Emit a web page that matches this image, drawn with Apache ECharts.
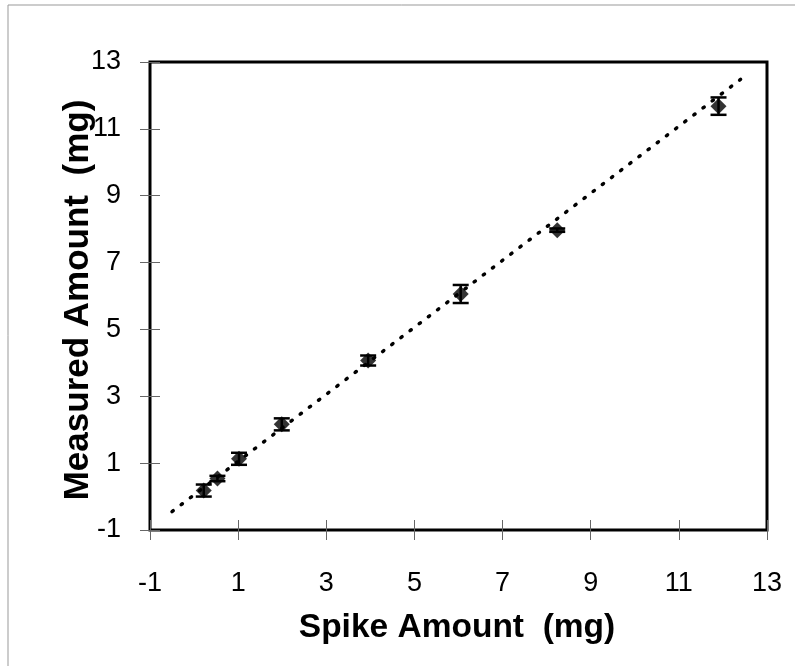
<!DOCTYPE html>
<html>
<head>
<meta charset="utf-8">
<script src="https://cdn.jsdelivr.net/npm/echarts@6/dist/echarts.min.js"></script>
<style>
html,body{margin:0;padding:0;background:#fff;}
#chart{width:795px;height:666px;}
</style>
</head>
<body>
<div id="chart"></div>
<script>
// Data
const spikeAmount = [0.22, 0.53, 1.02, 1.99, 3.95, 6.05, 8.24, 11.9];
const measuredAmount = [0.18, 0.54, 1.13, 2.16, 4.07, 6.06, 7.97, 11.68];
const errorAmount = [0.18, 0.08, 0.18, 0.18, 0.15, 0.27, 0.05, 0.26];
const trendX = [-0.5, 12.4];
const trendY = [-0.45, 12.48];
const tickLabels = [-1, 1, 3, 5, 7, 9, 11, 13];
const xTitle = 'Spike Amount  (mg)';
const yTitle = 'Measured Amount  (mg)';

const FONT = '"Liberation Sans", Arial, sans-serif';
const chart = echarts.init(document.getElementById('chart'), null, {renderer: 'canvas'});

const points = spikeAmount.map((x, i) => [x, measuredAmount[i]]);
const errData = spikeAmount.map((x, i) => [x, measuredAmount[i] - errorAmount[i], measuredAmount[i] + errorAmount[i]]);
const trendData = trendX.map((x, i) => [x, trendY[i]]);

function axisBase() {
  return {
    type: 'value', min: tickLabels[0], max: tickLabels[tickLabels.length - 1], interval: 2,
    splitLine: {show: false},
    axisLine: {show: false, onZero: false},
    offset: 0
  };
}

const tickStyle = {color: '#666', width: 1};

const option = {
  backgroundColor: '#fff',
  animation: false,
  grid: {left: 150, right: 28, top: 62, bottom: 136, show: true, borderColor: '#000', borderWidth: 3, backgroundColor: 'transparent'},
  graphic: [
    {type: 'line', shape: {x1: 8, y1: 5, x2: 8, y2: 666}, style: {stroke: '#999', lineWidth: 1}},
    {type: 'line', shape: {x1: 8, y1: 5, x2: 795, y2: 5}, style: {stroke: '#999', lineWidth: 1}},
    {type: 'text', x: 457, y: 628, style: {text: xTitle, font: 'bold 33.5px ' + FONT, fill: '#000', align: 'center', verticalAlign: 'middle'}},
    {type: 'text', x: 78, y: 300, rotation: Math.PI / 2, style: {text: yTitle, font: 'bold 35px ' + FONT, fill: '#000', align: 'center', verticalAlign: 'middle'}}
  ],
  xAxis: [
    Object.assign(axisBase(), {
      position: 'bottom',
      axisTick: {show: true, inside: false, length: 10, lineStyle: tickStyle},
      axisLabel: {margin: 40, color: '#000', fontFamily: FONT, fontSize: 27}
    }),
    Object.assign(axisBase(), {
      position: 'bottom',
      axisTick: {show: true, inside: true, length: 10, lineStyle: tickStyle},
      axisLabel: {show: false}
    })
  ],
  yAxis: [
    Object.assign(axisBase(), {
      position: 'left',
      axisTick: {show: true, inside: false, length: 10, lineStyle: tickStyle},
      axisLabel: {margin: 29, color: '#000', fontFamily: FONT, fontSize: 27}
    }),
    Object.assign(axisBase(), {
      position: 'left',
      axisTick: {show: true, inside: true, length: 10, lineStyle: tickStyle},
      axisLabel: {show: false}
    })
  ],
  series: [
    {
      type: 'line', data: trendData, xAxisIndex: 0, yAxisIndex: 0,
      showSymbol: false, symbol: 'none', silent: true,
      lineStyle: {color: '#000', width: 3.5, type: [1.5, 10], cap: 'round'},
      z: 2
    },
    {
      type: 'custom', xAxisIndex: 0, yAxisIndex: 0, data: errData,
      renderItem: function (params, api) {
        const x = api.value(0);
        const lo = api.coord([x, api.value(1)]);
        const hi = api.coord([x, api.value(2)]);
        const hw = 8;
        const style = {stroke: '#000', lineWidth: 2.5, fill: null};
        return {type: 'group', children: [
          {type: 'line', shape: {x1: lo[0], y1: lo[1], x2: hi[0], y2: hi[1]}, style: style},
          {type: 'line', shape: {x1: lo[0] - hw, y1: lo[1], x2: lo[0] + hw, y2: lo[1]}, style: style},
          {type: 'line', shape: {x1: hi[0] - hw, y1: hi[1], x2: hi[0] + hw, y2: hi[1]}, style: style}
        ]};
      },
      z: 3
    },
    {
      type: 'scatter', data: points, xAxisIndex: 0, yAxisIndex: 0,
      symbol: 'diamond', symbolSize: 16,
      itemStyle: {color: '#000'},
      z: 4
    }
  ]
};
chart.setOption(option);
</script>
</body>
</html>
